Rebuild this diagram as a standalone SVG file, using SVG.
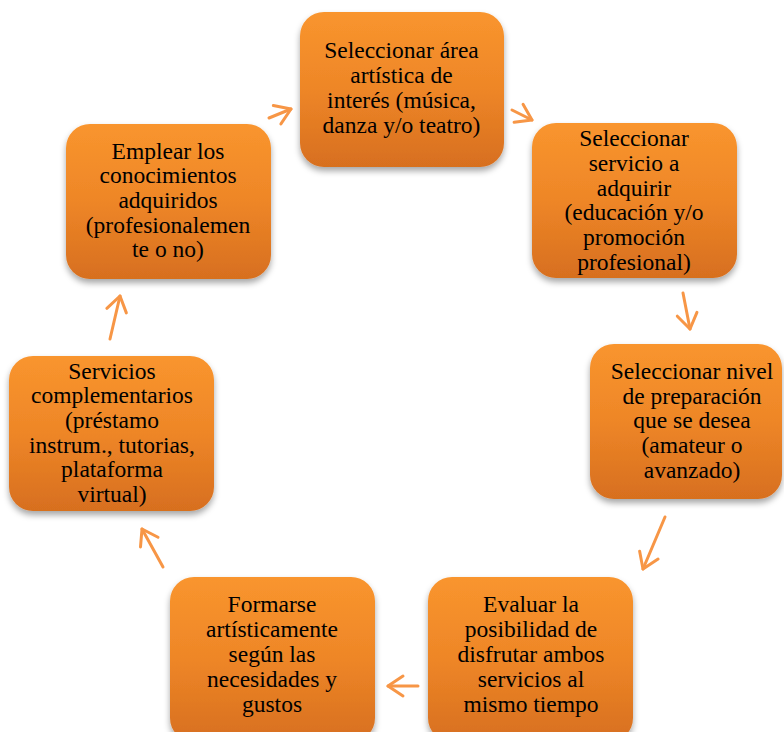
<svg xmlns="http://www.w3.org/2000/svg" width="784" height="732" viewBox="0 0 784 732">
<defs>
<linearGradient id="g" x1="0" y1="0" x2="0" y2="1">
<stop offset="0" stop-color="#F9952E"/>
<stop offset="0.5" stop-color="#EE8627"/>
<stop offset="1" stop-color="#D76F1F"/>
</linearGradient>
<filter id="sh" x="-10%" y="-10%" width="120%" height="125%">
<feDropShadow dx="0" dy="4" stdDeviation="3" flood-color="#000" flood-opacity="0.35"/>
</filter>
<marker id="ah" markerUnits="userSpaceOnUse" markerWidth="24" markerHeight="28" viewBox="-18 -14 22 28" refX="0" refY="0" orient="auto">
<path d="M-15,-10 L0,0 L-15,10" fill="none" stroke="#F79646" stroke-width="3" stroke-linecap="round" stroke-linejoin="round"/>
</marker>
</defs>
<style>
.box{fill:url(#g);filter:url(#sh);}
.t{font-family:"Liberation Serif","Times New Roman",serif;font-size:23.5px;fill:#000;text-anchor:middle;}
.c{fill:none;stroke:#F79646;stroke-width:3;stroke-linecap:round;marker-end:url(#ah);}
</style>
<rect width="784" height="732" fill="#fff"/>
<g id="connectors">
<path class="c" d="M269,118 L291,109"/>
<path class="c" d="M512,110 L532,120"/>
<path class="c" d="M683,293 L690,329"/>
<path class="c" d="M665,517 L643,569"/>
<path class="c" d="M418,686 L388,686"/>
<path class="c" d="M163,567 L142,529"/>
<path class="c" d="M110,339 L120,296"/>
</g>
<g id="n1">
<rect class="box" x="300" y="12" width="204" height="155" rx="24"/>
<text class="t"><tspan x="401.5" y="58">Seleccionar área</tspan><tspan x="401.5" y="83">artística de</tspan><tspan x="401.5" y="108">interés (música,</tspan><tspan x="401.5" y="133">danza y/o teatro)</tspan></text>
</g>
<g id="n2">
<rect class="box" x="532" y="123" width="205" height="155" rx="24"/>
<text class="t"><tspan x="634" y="146">Seleccionar</tspan><tspan x="634" y="171">servicio a</tspan><tspan x="634" y="196">adquirir</tspan><tspan x="634" y="220">(educación y/o</tspan><tspan x="634" y="245">promoción</tspan><tspan x="634" y="270">profesional)</tspan></text>
</g>
<g id="n3">
<rect class="box" x="590" y="344" width="192" height="155" rx="24"/>
<text class="t"><tspan x="692" y="379">Seleccionar nivel</tspan><tspan x="692" y="404">de preparación</tspan><tspan x="692" y="428">que se desea</tspan><tspan x="692" y="453">(amateur o</tspan><tspan x="692" y="478">avanzado)</tspan></text>
</g>
<g id="n4">
<rect class="box" x="428" y="577" width="205" height="165" rx="24"/>
<text class="t"><tspan x="531" y="612">Evaluar la</tspan><tspan x="531" y="637">posibilidad de</tspan><tspan x="531" y="662">disfrutar ambos</tspan><tspan x="531" y="687">servicios al</tspan><tspan x="531" y="712">mismo tiempo</tspan></text>
</g>
<g id="n5">
<rect class="box" x="170" y="577" width="205" height="165" rx="24"/>
<text class="t"><tspan x="272" y="612">Formarse</tspan><tspan x="272" y="637">artísticamente</tspan><tspan x="272" y="662">según las</tspan><tspan x="272" y="687">necesidades y</tspan><tspan x="272" y="712">gustos</tspan></text>
</g>
<g id="n6">
<rect class="box" x="9" y="356" width="205" height="155" rx="24"/>
<text class="t"><tspan x="112" y="379">Servicios</tspan><tspan x="112" y="403">complementarios</tspan><tspan x="112" y="428">(préstamo</tspan><tspan x="112" y="453">instrum., tutorias,</tspan><tspan x="112" y="477">plataforma</tspan><tspan x="112" y="502">virtual)</tspan></text>
</g>
<g id="n7">
<rect class="box" x="66" y="124" width="205" height="155" rx="24"/>
<text class="t"><tspan x="168" y="159">Emplear los</tspan><tspan x="168" y="183">conocimientos</tspan><tspan x="168" y="208">adquiridos</tspan><tspan x="168" y="233">(profesionalemen</tspan><tspan x="168" y="257">te o no)</tspan></text>
</g>
</svg>
